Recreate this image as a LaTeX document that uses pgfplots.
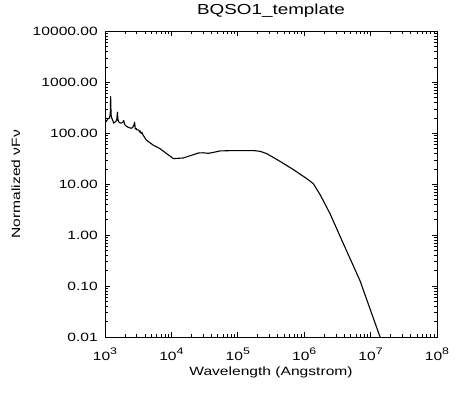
\documentclass[border=0pt]{standalone}
\usepackage{fontspec}
\setmainfont{Liberation Sans}[FakeStretch=1.3]
\usepackage{pgfplots}
\pgfplotsset{compat=1.18}
\newcommand{\tk}{\fontsize{12bp}{14bp}\selectfont}
\newcommand{\ex}[1]{10\raisebox{0.42em}{\fontsize{9.5bp}{10bp}\selectfont #1}}
\begin{document}
\begin{tikzpicture}
\useasboundingbox (-105bp,-57bp) rectangle (367bp,337bp);
\begin{axis}[
  scale only axis,
  width=332bp, height=305.5bp,
  xmode=log, ymode=log,
  xmin=1e3, xmax=1e8, ymin=0.01, ymax=1e4,
  axis line style={line width=0.8bp},
  tick style={line width=0.7bp, black},
  major tick length=5bp, minor tick length=3bp,
  tick align=inside,
  xtick={1e3,1e4,1e5,1e6,1e7,1e8},
  xticklabels={\ex{3},\ex{4},\ex{5},\ex{6},\ex{7},\ex{8}},
  ytick={0.01,0.1,1,10,100,1000,10000},
  yticklabels={0.01,0.10,1.00,10.00,100.00,1000.00,10000.00},
  xticklabel style={font=\tk, anchor=base, yshift=-23bp},
  yticklabel style={font=\tk, anchor=east, inner sep=0pt, xshift=-7bp},
  title={BQSO1\_template},
  title style={font=\fontsize{14.5bp}{17bp}\selectfont, at={(axis description cs:0.5,1.0376)}, anchor=base},
  xlabel={Wavelength (Angstrom)},
  ylabel={Normalized νFν},
  every axis x label/.style={at={(axis description cs:0.5,-0.1244)}, anchor=base, font=\tk},
  every axis y label/.style={at={(axis description cs:-0.256,0.5)}, rotate=90, anchor=base, font=\tk},
  clip=true,
]
\addplot[black, line width=1.1bp, line join=round] coordinates {
(1000,181) (1047,171) (1109,194) (1170,200) (1200,240) (1216,530) (1235,230)
(1260,200) (1300,185) (1352,158) (1400,165) (1449,171) (1500,180) (1540,260)
(1565,190) (1600,168) (1700,160) (1759,158) (1850,165) (1909,179) (1960,155)
(2000,146) (2100,138) (2219,132) (2350,128) (2489,126) (2600,130) (2700,140)
(2790,165) (2858,122) (2950,125) (3000,117) (3140,117) (3250,115) (3300,106)
(3404,111) (3500,100) (3600,104) (3733,93) (4188,74) (5285,59) (6730,50)
(10700,31.9) (15100,32.8) (25400,41.1) (30000,41.5) (36000,40.5) (42000,42)
(54000,45.1) (85500,45.9) (171000,45.9) (216000,44.4) (272000,40.0)
(432000,28.2) (686000,19.4) (1.09e6,12.9) (1.37e6,10.3) (1.73e6,6.3)
(2.45e6,2.64) (3.89e6,0.68) (6.92e6,0.128) (1.45e7,0.0085)
};
\end{axis}
\end{tikzpicture}
\end{document}
